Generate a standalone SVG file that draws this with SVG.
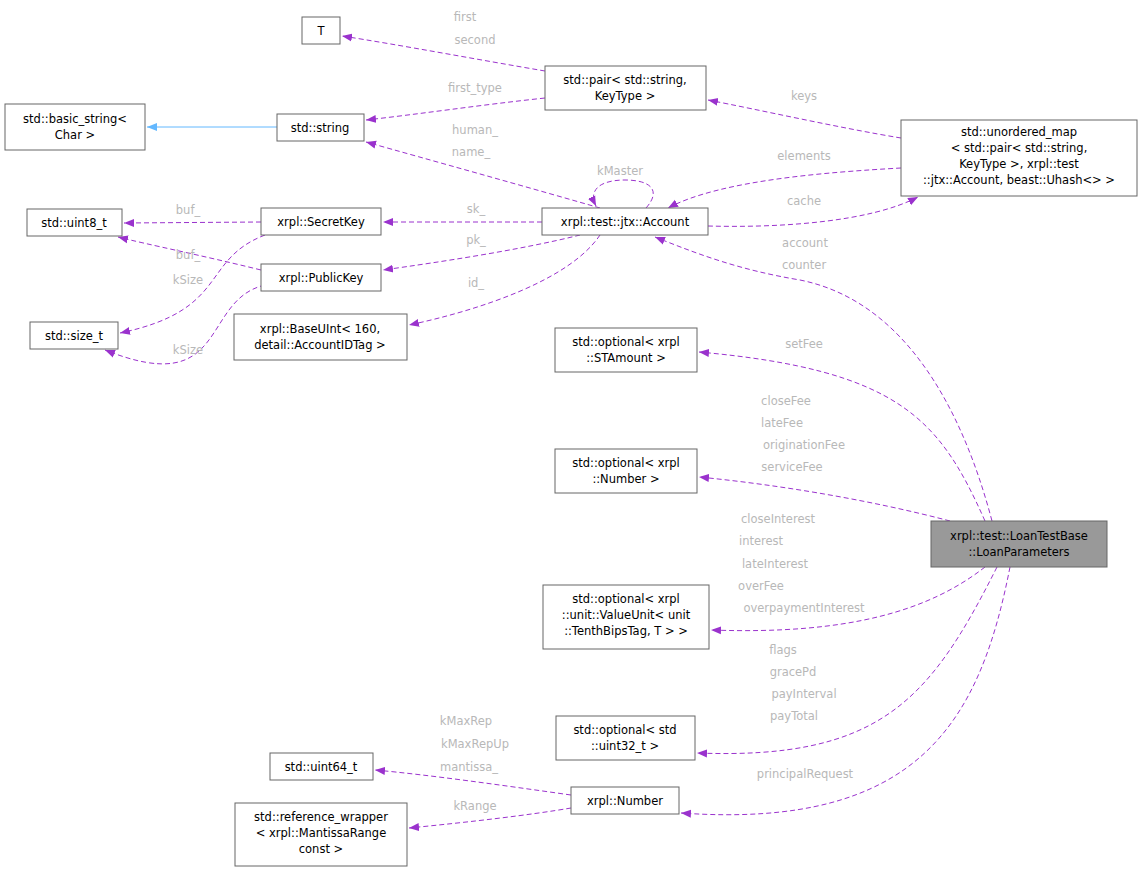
<svg xmlns="http://www.w3.org/2000/svg" width="1143" height="871" viewBox="0 0 1143 871">
<style>
.n rect{fill:#fff;stroke:#666;stroke-width:1}
.n text,.lbl{font-family:"DejaVu Sans",sans-serif;font-size:11.5px}
.n text{fill:#000;text-anchor:middle}
.lbl{fill:#b8b8b8;text-anchor:middle}
.e{fill:none;stroke:#9a32cd;stroke-width:1;stroke-dasharray:5,3}
.b{fill:none;stroke:#63b8ff;stroke-width:1}
</style>
<defs>
<marker id="a" viewBox="0 0 10 10" refX="10" refY="5" markerWidth="10" markerHeight="10" markerUnits="userSpaceOnUse" orient="auto"><path d="M0,1 L10,5 L0,9 z" fill="#9a32cd"/></marker>
<marker id="ab" viewBox="0 0 10 10" refX="10" refY="5" markerWidth="10" markerHeight="10" markerUnits="userSpaceOnUse" orient="auto"><path d="M0,1 L10,5 L0,9 z" fill="#63b8ff"/></marker>
</defs>
<rect width="1143" height="871" fill="#fff"/>
<g id="edges">
<path class="e" marker-end="url(#a)" d="M545,71 C480,60 400,45 342,36"/>
<path class="e" marker-end="url(#a)" d="M545,98 C480,105 420,114 366,120"/>
<path class="b" marker-end="url(#ab)" d="M277,127 L147,127"/>
<path class="e" marker-end="url(#a)" d="M600,208 C520,185 430,160 366,142"/>
<path class="e" marker-end="url(#a)" d="M646,208 C662,190 650,180 625,180 C600,180 588,190 596,206"/>
<path class="e" marker-end="url(#a)" d="M901,138 C840,128 760,110 708,100"/>
<path class="e" marker-end="url(#a)" d="M901,168 C830,172 720,180 668,208"/>
<path class="e" marker-end="url(#a)" d="M708,226 C780,228 870,222 918,197"/>
<path class="e" marker-end="url(#a)" d="M542,222 L383,222"/>
<path class="e" marker-end="url(#a)" d="M580,235 C520,250 440,262 383,270"/>
<path class="e" marker-end="url(#a)" d="M600,235 C570,280 480,310 409,325"/>
<path class="e" marker-end="url(#a)" d="M261,222 L124,223"/>
<path class="e" marker-end="url(#a)" d="M261,270 C200,255 150,245 118,237"/>
<path class="e" marker-end="url(#a)" d="M265,235 C200,260 230,310 120,333"/>
<path class="e" marker-end="url(#a)" d="M265,285 C200,300 230,400 105,350"/>
<path class="e" marker-end="url(#a)" d="M992,521 C960,400 900,300 800,280 C740,270 700,255 655,237"/>
<path class="e" marker-end="url(#a)" d="M985,521 C940,420 900,370 699,352"/>
<path class="e" marker-end="url(#a)" d="M950,521 C870,500 780,485 699,477"/>
<path class="e" marker-end="url(#a)" d="M985,567 C930,610 850,635 711,630"/>
<path class="e" marker-end="url(#a)" d="M997,567 C930,700 880,760 697,753"/>
<path class="e" marker-end="url(#a)" d="M1010,567 C980,720 920,830 681,813"/>
<path class="e" marker-end="url(#a)" d="M571,795 C500,785 430,775 375,770"/>
<path class="e" marker-end="url(#a)" d="M571,808 C530,815 470,822 409,828"/>
<text class="lbl" x="465" y="21">first</text>
<text class="lbl" x="475" y="44">second</text>
<text class="lbl" x="475" y="92">first_type</text>
<text class="lbl" x="475" y="134">human_</text>
<text class="lbl" x="471" y="156">name_</text>
<text class="lbl" x="620" y="175">kMaster</text>
<text class="lbl" x="804" y="100">keys</text>
<text class="lbl" x="804" y="160">elements</text>
<text class="lbl" x="804" y="205">cache</text>
<text class="lbl" x="476" y="213">sk_</text>
<text class="lbl" x="476" y="244">pk_</text>
<text class="lbl" x="476" y="287">id_</text>
<text class="lbl" x="188" y="214">buf_</text>
<text class="lbl" x="188" y="259">buf_</text>
<text class="lbl" x="188" y="284">kSize</text>
<text class="lbl" x="188" y="354">kSize</text>
<text class="lbl" x="805" y="247">account</text>
<text class="lbl" x="804" y="269">counter</text>
<text class="lbl" x="804" y="348">setFee</text>
<text class="lbl" x="786" y="405">closeFee</text>
<text class="lbl" x="782" y="427">lateFee</text>
<text class="lbl" x="804" y="449">originationFee</text>
<text class="lbl" x="792" y="471">serviceFee</text>
<text class="lbl" x="778" y="523">closeInterest</text>
<text class="lbl" x="761" y="545">interest</text>
<text class="lbl" x="775" y="568">lateInterest</text>
<text class="lbl" x="761" y="590">overFee</text>
<text class="lbl" x="804" y="612">overpaymentInterest</text>
<text class="lbl" x="783" y="654">flags</text>
<text class="lbl" x="793" y="676">gracePd</text>
<text class="lbl" x="804" y="698">payInterval</text>
<text class="lbl" x="794" y="720">payTotal</text>
<text class="lbl" x="805" y="778">principalRequest</text>
<text class="lbl" x="466" y="725">kMaxRep</text>
<text class="lbl" x="475" y="748">kMaxRepUp</text>
<text class="lbl" x="469" y="771">mantissa_</text>
<text class="lbl" x="475" y="810">kRange</text>
</g>
<g id="T" class="n"><rect x="302" y="17" width="38" height="27"/><text x="321" y="35">T</text></g>
<g id="basic_string" class="n"><rect x="5" y="104" width="140" height="46"/><text x="75" y="123">std::basic_string&lt;</text><text x="75" y="139">Char &gt;</text></g>
<g id="string" class="n"><rect x="277" y="114" width="87" height="27"/><text x="320" y="132">std::string</text></g>
<g id="pair" class="n"><rect x="545" y="66" width="161" height="44"/><text x="625" y="84">std::pair&lt; std::string,</text><text x="625" y="100">KeyType &gt;</text></g>
<g id="umap" class="n"><rect x="901" y="120" width="236" height="76"/><text x="1019" y="136">std::unordered_map</text><text x="1019" y="152">&lt; std::pair&lt; std::string,</text><text x="1019" y="168"> KeyType &gt;, xrpl::test</text><text x="1019" y="184">::jtx::Account, beast::Uhash&lt;&gt; &gt;</text></g>
<g id="Account" class="n"><rect x="542" y="208" width="166" height="27"/><text x="625" y="226">xrpl::test::jtx::Account</text></g>
<g id="uint8" class="n"><rect x="27" y="209" width="95" height="27"/><text x="74" y="227">std::uint8_t</text></g>
<g id="SecretKey" class="n"><rect x="261" y="208" width="120" height="27"/><text x="321" y="226">xrpl::SecretKey</text></g>
<g id="PublicKey" class="n"><rect x="261" y="264" width="120" height="27"/><text x="321" y="282">xrpl::PublicKey</text></g>
<g id="size_t" class="n"><rect x="30" y="322" width="88" height="27"/><text x="74" y="340">std::size_t</text></g>
<g id="BaseUInt" class="n"><rect x="234" y="314" width="173" height="46"/><text x="320" y="333">xrpl::BaseUInt&lt; 160,</text><text x="320" y="349"> detail::AccountIDTag &gt;</text></g>
<g id="optSTAmount" class="n"><rect x="555" y="328" width="142" height="44"/><text x="626" y="346">std::optional&lt; xrpl</text><text x="626" y="362">::STAmount &gt;</text></g>
<g id="optNumber" class="n"><rect x="555" y="449" width="142" height="44"/><text x="626" y="467">std::optional&lt; xrpl</text><text x="626" y="483">::Number &gt;</text></g>
<g id="LoanParameters" class="n"><rect x="931" y="521" width="176" height="46" style="fill:#999"/><text x="1019" y="540">xrpl::test::LoanTestBase</text><text x="1019" y="556">::LoanParameters</text></g>
<g id="optValueUnit" class="n"><rect x="543" y="585" width="166" height="64"/><text x="626" y="603">std::optional&lt; xrpl</text><text x="626" y="619">::unit::ValueUnit&lt; unit</text><text x="626" y="635">::TenthBipsTag, T &gt; &gt;</text></g>
<g id="optUint32" class="n"><rect x="556" y="716" width="139" height="44"/><text x="625" y="734">std::optional&lt; std</text><text x="625" y="750">::uint32_t &gt;</text></g>
<g id="uint64" class="n"><rect x="270" y="753" width="103" height="27"/><text x="321" y="771">std::uint64_t</text></g>
<g id="Number" class="n"><rect x="571" y="787" width="108" height="27"/><text x="625" y="805">xrpl::Number</text></g>
<g id="refwrap" class="n"><rect x="235" y="803" width="172" height="63"/><text x="321" y="821">std::reference_wrapper</text><text x="321" y="837">&lt; xrpl::MantissaRange</text><text x="321" y="853"> const &gt;</text></g>
</svg>
